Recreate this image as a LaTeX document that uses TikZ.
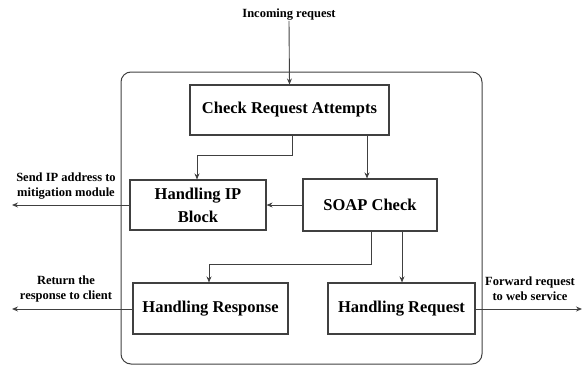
\documentclass[tikz,border=0pt]{standalone}
\usepackage{fontspec}
\setmainfont{Liberation Serif}
\usetikzlibrary{arrows.meta}
\begin{document}
\begin{tikzpicture}[x=1pt,y=-1pt,
  blk/.style={draw=black!75,line width=1.1pt,font=\bfseries\fontsize{16.5}{23}\selectfont,align=center,inner sep=0pt},
  lbl/.style={font=\bfseries\fontsize{12.5}{15}\selectfont,align=center,inner sep=0pt},
  conn/.style={draw=black!75,line width=0.9pt,-{Stealth[length=6pt,width=5pt]}}]
\useasboundingbox (0,0) rectangle (587,367);
\draw[draw=black!75,line width=1pt,rounded corners=10pt] (121,72) rectangle (482,364);
\node[blk,minimum width=199pt,minimum height=50pt] (cra) at (289.5,110) {Check Request Attempts};
\node[blk,minimum width=136pt,minimum height=50pt] (hip) at (198,205) {Handling IP\\Block};
\node[blk,minimum width=134pt,minimum height=52pt] (soap) at (370,205) {SOAP Check};
\node[blk,minimum width=155pt,minimum height=51pt] (hres) at (210.5,308.5) {Handling Response};
\node[blk,minimum width=147pt,minimum height=51pt] (hreq) at (401.5,308.5) {Handling Request};
\node[lbl] (inc) at (289,15) {Incoming request};
\node[lbl] (sip) at (66,186) {Send IP address to\\mitigation module};
\node[lbl] (ret) at (66,289) {Return the\\response to client};
\node[lbl] (fwd) at (530,289) {Forward request\\to web service};
\coordinate (sipend) at (12,205);
\coordinate (retend) at (12,309);
\coordinate (fwdend) at (582,309);
\draw[conn] (inc.south) -- (cra.north);
\draw[conn] (cra.south -| 292,0) |- (197,155) -- (hip.north -| 197,0);
\draw[conn] (cra.south -| 367,0) -- (soap.north -| 367,0);
\draw[conn] (soap.west) -- (hip.east);
\draw[conn] (soap.south -| 371,0) |- (209,264) -- (hres.north -| 209,0);
\draw[conn] (soap.south -| 402,0) -- (hreq.north -| 402,0);
\draw[conn] (hip.west) -- (sipend);
\draw[conn] (hres.west |- retend) -- (retend);
\draw[conn] (hreq.east |- fwdend) -- (fwdend);
\end{tikzpicture}
\end{document}
